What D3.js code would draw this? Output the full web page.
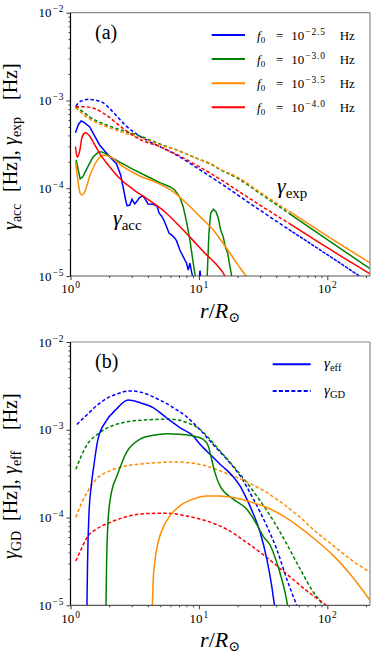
<!DOCTYPE html>
<html>
<head>
<meta charset="utf-8">
<script src="https://cdnjs.cloudflare.com/ajax/libs/d3/7.8.5/d3.min.js"></script>
<style>
  body { margin: 0; background: #fff; }
  svg { display: block; }
  text { font-family: "Liberation Serif", "DejaVu Serif", serif; fill: #000; }
</style>
</head>
<body>
<div id="chart"></div>
<script>
// ---- axes / labels ----
const xDomain = [1, 215];
const yDomain = [1e-5, 1e-2];
const xMajor = [1, 10, 100];
const xMajorExp = ["0", "1", "2"];
const yMajor = [1e-2, 1e-3, 1e-4, 1e-5];
const yMajorExp = ["\u22122", "\u22123", "\u22124", "\u22125"];
const f0Exp = ["\u22122.5", "\u22123.0", "\u22123.5", "\u22124.0"];
const seriesColors = ["#0000ff", "#008000", "#ff8c00", "#ff0000"];
const expSolidFrom = 55; // gamma_exp dashes close up at large r

// ---- panel (a): gamma_exp  [r/Rsun, Hz] ----
const expBlue = [[1.1,8.6e-4],[1.2,9.8e-4],[1.4,1.03e-3],[1.6,1.0e-3],[1.736,9.7e-4],[2.017,8.1e-4],[2.343,6.4e-4],[2.72,5.1e-4],[3.26,4.15e-4],[3.9,3.55e-4],[4.96,2.98e-4],[6.69,2.39e-4],[10,1.65e-4],[15,1.12e-4],[20,8.4e-5],[30,5.6e-5],[50,3.4e-5],[100,1.75e-5],[215,8.3e-6]];
const expGreen = [[1.094,8.5e-4],[1.249,7.45e-4],[1.407,6.5e-4],[1.9,5.26e-4],[2.564,4.53e-4],[3.46,3.94e-4],[4.96,3.19e-4],[6.69,2.73e-4],[10,2.14e-4],[12,1.92e-4],[15,1.6e-4],[20,1.3e-4],[30,8.7e-5],[50,5.2e-5],[100,2.6e-5],[215,1.21e-5]];
const expOrange = [[1.094,8.3e-4],[1.249,7.0e-4],[1.407,6.15e-4],[1.9,5.03e-4],[2.564,4.3e-4],[3.46,3.8e-4],[4.96,3.12e-4],[6.69,2.73e-4],[10,2.14e-4],[12,1.95e-4],[15,1.62e-4],[20,1.34e-4],[30,9.0e-5],[50,5.5e-5],[100,2.85e-5],[215,1.41e-5]];
const expRed = [[1.094,8.5e-4],[1.249,8.5e-4],[1.54,8.1e-4],[1.9,6.8e-4],[2.564,4.8e-4],[3.46,3.6e-4],[4.96,2.98e-4],[6.69,2.43e-4],[10,1.76e-4],[15,1.24e-4],[20,9.4e-5],[30,6.4e-5],[50,4.0e-5],[100,2.1e-5],[215,1.06e-5]];

// ---- panel (a): gamma_acc ----
const accBlue = [[1.094,4.3e-4],[1.15,5.3e-4],[1.211,5.84e-4],[1.249,5.74e-4],[1.407,5.03e-4],[1.685,3.11e-4],[2.017,2.29e-4],[2.274,1.92e-4],[2.458,1.42e-4],[2.564,1.04e-4],[2.69,7.35e-5],[2.755,6.34e-5],[2.89,6.4e-5],[3.01,7.48e-5],[3.162,6.62e-5],[3.3,7.16e-5],[3.459,7.88e-5],[3.67,8.16e-5],[3.83,7.48e-5],[4.018,6.62e-5],[4.397,6.55e-5],[4.72,6.28e-5],[4.9,5.19e-5],[5.11,4.84e-5],[5.33,4.35e-5],[5.59,3.66e-5],[5.86,3.07e-5],[6.11,2.94e-5],[6.41,2.76e-5],[6.69,2.53e-5],[7.11,1.98e-5],[7.54,1.66e-5],[8.01,1.4e-5],[8.25,1.17e-5],[8.51,1.4e-5],[8.76,1.12e-5],[9.03,9.3e-6],[10.0,9e-6],[10.2,1.15e-5],[10.4,9e-6]];
const accGreen = [[1.107,2.1e-4],[1.148,1.62e-4],[1.19,1.28e-4],[1.249,1.36e-4],[1.366,1.76e-4],[1.495,2.25e-4],[1.635,2.56e-4],[1.736,2.61e-4],[1.899,2.45e-4],[2.142,2.19e-4],[2.564,1.89e-4],[3.07,1.64e-4],[3.9,1.38e-4],[4.96,1.16e-4],[5.93,1.04e-4],[6.49,9.55e-5],[7.11,7.88e-5],[7.54,6.17e-5],[8.01,4.17e-5],[8.51,2.58e-5],[9.03,1.4e-5],[9.48,9e-6],[11.14,9e-6],[11.6,1.0e-5],[11.97,3.07e-5],[12.34,5.19e-5],[12.94,5.75e-5],[13.58,5.4e-5],[14.16,4.55e-5],[14.77,3.35e-5],[15.49,2.76e-5],[16.06,2.16e-5],[16.75,1.82e-5],[17.47,1.28e-5],[18.2,9e-6]];
const accOrange = [[1.094,2.01e-4],[1.141,1.24e-4],[1.19,8.75e-5],[1.233,8.38e-5],[1.31,9.55e-5],[1.407,1.36e-4],[1.54,1.84e-4],[1.685,2.25e-4],[1.81,2.37e-4],[2.017,2.29e-4],[2.564,1.76e-4],[3.459,1.38e-4],[4.67,1.16e-4],[6.3,9.14e-5],[8.01,6.74e-5],[10.2,4.75e-5],[12.94,3.35e-5],[16.45,2.07e-5],[19.7,1.4e-5],[23.3,1.0e-5],[24.5,9e-6]];
const accRed = [[1.094,2.98e-4],[1.127,2.25e-4],[1.176,2.61e-4],[1.233,3.87e-4],[1.31,4.3e-4],[1.39,4.05e-4],[1.495,3.4e-4],[1.685,2.5e-4],[2.017,1.76e-4],[2.41,1.3e-4],[3.07,9.73e-5],[4.14,7.23e-5],[5.59,5.19e-5],[7.11,3.66e-5],[9.03,2.53e-5],[11.48,1.74e-5],[13.75,1.34e-5],[15.96,1.0e-5],[16.5,9e-6]];

// ---- panel (b): gamma_GD ----
const gdBlue = [[1.12,1.15e-3],[1.33,1.46e-3],[1.59,1.87e-3],[1.9,2.26e-3],[2.27,2.54e-3],[2.89,2.77e-3],[3.46,2.7e-3],[4.14,2.47e-3],[4.96,2.18e-3],[6.3,1.79e-3],[8.0,1.41e-3],[10.2,1.0e-3],[12.9,6.8e-4],[16.5,4.6e-4],[20.9,3.0e-4],[26.6,1.62e-4],[33.8,8.0e-5],[40.4,4.35e-5],[48.4,1.98e-5],[57.9,1.0e-5],[62,8e-6]];
const gdGreen = [[1.1,3.55e-4],[1.326,6.53e-4],[1.685,9.27e-4],[2.142,1.12e-3],[2.72,1.23e-3],[3.67,1.29e-3],[5.93,1.32e-3],[8.01,1.21e-3],[10.2,1.01e-3],[12.19,7.78e-4],[14.6,5.74e-4],[18.5,3.87e-4],[23.6,2.5e-4],[30.0,1.55e-4],[38.1,9.14e-5],[48.4,4.97e-5],[61.5,2.58e-5],[78.2,1.4e-5],[92.5,1e-5],[100,8e-6]];
const gdOrange = [[1.1,1e-4],[1.211,1.42e-4],[1.342,1.92e-4],[1.586,2.73e-4],[2.017,3.4e-4],[2.72,3.87e-4],[4.14,4.15e-4],[6.69,4.3e-4],[9.03,4.15e-4],[11.48,3.87e-4],[14.6,3.4e-4],[18.5,2.98e-4],[25.0,2.45e-4],[33.8,1.92e-4],[45.6,1.42e-4],[61.5,1e-4],[83.0,6.74e-5],[112,4.75e-5],[151,3.35e-5],[217,2.36e-5]];
const gdRed = [[1.1,3.2e-5],[1.211,4.35e-5],[1.342,5.9e-5],[1.586,7.35e-5],[2.017,8.75e-5],[2.72,1.02e-4],[3.9,1.11e-4],[5.59,1.12e-4],[8.01,1.04e-4],[11.48,9.14e-5],[16.45,7.35e-5],[23.6,5.19e-5],[33.8,3.5e-5],[48.4,2.26e-5],[69.4,1.46e-5],[98.2,1e-5],[112,8.6e-6]];

// ---- panel (b): gamma_eff ----
const effBlue = [[1.342,9e-6],[1.358,3.07e-5],[1.39,1.04e-4],[1.45,2.29e-4],[1.513,3.71e-4],[1.635,7.78e-4],[1.899,1.26e-3],[2.274,1.71e-3],[2.805,2.18e-3],[3.459,2.04e-3],[4.397,1.79e-3],[5.59,1.37e-3],[7.11,1.06e-3],[9.03,8.49e-4],[10.2,6.83e-4],[11.48,5.74e-4],[12.94,4.82e-4],[14.6,4.05e-4],[16.45,3.48e-4],[18.5,2.92e-4],[20.9,2.29e-4],[23.6,1.62e-4],[26.6,1.09e-4],[30.0,6.74e-5],[33.8,3.35e-5],[36.9,1.66e-5],[38.8,1.0e-5],[40,8e-6]];
const effGreen = [[1.888,9e-6],[1.911,3.07e-5],[1.958,8.75e-5],[2.04,1.62e-4],[2.142,2.29e-4],[2.274,2.85e-4],[2.72,5.49e-4],[3.459,7.78e-4],[4.397,8.64e-4],[5.59,9.03e-4],[7.11,8.88e-4],[9.03,8.49e-4],[10.8,7.78e-4],[11.83,6.53e-4],[12.56,4.61e-4],[13.33,3.25e-4],[14.6,2.29e-4],[18.5,1.62e-4],[23.6,1.24e-4],[28.2,8.38e-5],[31.8,6.07e-5],[35.9,4.83e-5],[40.4,3.07e-5],[44.2,1.98e-5],[46.9,1.4e-5],[49.0,1e-5],[50,8e-6]];
const effOrange = [[4.33,9e-6],[4.397,1.82e-5],[4.53,3.07e-5],[4.81,5.19e-5],[5.26,7.67e-5],[5.93,1.04e-4],[7.11,1.36e-4],[9.03,1.62e-4],[11.48,1.76e-4],[14.6,1.76e-4],[18.5,1.69e-4],[25.0,1.51e-4],[33.8,1.3e-4],[45.6,1.04e-4],[61.5,7.67e-5],[83.0,5.4e-5],[112,3.66e-5],[151,2.26e-5],[217,1.12e-5]];

const W = 381, H = 661;
const svg = d3.select("#chart").append("svg").attr("width", W).attr("height", H);
svg.append("rect").attr("width", W).attr("height", H).attr("fill", "#fff");

const x = d3.scaleLog().domain(xDomain).range([70.5, 370]);

function minorTicks(lo, hi) {
  const out = [];
  for (let e = Math.floor(Math.log10(lo)); e <= Math.ceil(Math.log10(hi)); e++)
    for (let k = 2; k <= 9; k++) {
      const v = k * Math.pow(10, e);
      if (v > lo && v < hi) out.push(v);
    }
  return out;
}

function supText(sel, exps, supSize) {
  sel.each(function (d, i) {
    const t = d3.select(this).text(null);
    t.append("tspan").text("10");
    t.append("tspan").attr("dx", 1).attr("dy", -5)
      .style("font-size", supSize + "px").style("letter-spacing", "1px")
      .text(exps[i]);
  });
}

function drawPanel(p) {
  const y = d3.scaleLog().domain(yDomain).range([p.bottom, p.top]);
  const g = svg.append("g");
  const clipId = "clip-" + p.name;
  svg.append("clipPath").attr("id", clipId).append("rect")
    .attr("x", x.range()[0]).attr("y", p.top)
    .attr("width", x.range()[1] - x.range()[0]).attr("height", p.bottom - p.top);

  const line = d3.line().x(d => x(d[0])).y(d => y(d[1]));
  const plot = g.append("g").attr("clip-path", `url(#${clipId})`);
  p.series.forEach(s => {
    plot.append("path").datum(s.data)
      .attr("fill", "none").attr("stroke", s.color).attr("stroke-width", 1.5)
      .attr("stroke-dasharray", s.dash || null)
      .attr("d", line.curve(s.smooth ? d3.curveMonotoneX : d3.curveLinear));
  });

  // axes
  const yMin = g.append("g").attr("transform", `translate(${x.range()[0]},0)`)
    .call(d3.axisLeft(y).tickValues(minorTicks(1e-5, 1e-2)).tickSize(2).tickFormat(""));
  const yMaj = g.append("g").attr("transform", `translate(${x.range()[0]},0)`)
    .call(d3.axisLeft(y).tickValues(yMajor).tickSize(4).tickPadding(2));
  const xMin = g.append("g").attr("transform", `translate(0,${p.bottom})`)
    .call(d3.axisBottom(x).tickValues(minorTicks(1, 215)).tickSize(2).tickFormat(""));
  const xMaj = g.append("g").attr("transform", `translate(0,${p.bottom})`)
    .call(d3.axisBottom(x).tickValues(xMajor).tickSize(4).tickPadding(4));
  [yMin, yMaj, xMin, xMaj].forEach(a => a.select(".domain").remove());
  g.selectAll(".tick line").attr("stroke", "#000").attr("stroke-width", 0.8);
  yMaj.selectAll(".tick text").style("font-size", "13px").call(supText, yMajorExp, 9.5);
  xMaj.selectAll(".tick text").style("font-size", "13px").call(supText, xMajorExp, 9.5);

  // spines
  const [x0, x1] = x.range();
  g.append("line").attr("x1", x0).attr("x2", x1).attr("y1", p.top).attr("y2", p.top).attr("stroke", "#888").attr("stroke-width", 1.2);
  g.append("line").attr("x1", x1).attr("x2", x1).attr("y1", p.top).attr("y2", p.bottom).attr("stroke", "#888").attr("stroke-width", 1.2);
  g.append("line").attr("x1", x0).attr("x2", x1).attr("y1", p.bottom).attr("y2", p.bottom).attr("stroke", "#555").attr("stroke-width", 1.2);
  g.append("line").attr("x1", x0).attr("x2", x0).attr("y1", p.top).attr("y2", p.bottom).attr("stroke", "#000").attr("stroke-width", 1.2);

  // x label r/R_sun
  const xl = g.append("text").attr("x", 220).attr("y", p.bottom + 42).attr("text-anchor", "middle").style("font-size", "22px");
  xl.append("tspan").style("font-style", "italic").text("r");
  xl.append("tspan").text("/");
  xl.append("tspan").style("font-style", "italic").text("R");
  xl.append("tspan").attr("dy", 4).style("font-size", "14px").text("\u2299");

  // y label pieces (rotated)
  p.ylabel.forEach(piece => {
    const t = g.append("text").attr("transform", `translate(17,${piece.at}) rotate(-90)`).style("font-size", "20px");
    if (piece.sub) {
      t.append("tspan").style("font-style", "italic").text("\u03b3");
      t.append("tspan").attr("dy", 4).style("font-size", "14px").text(piece.sub);
    } else {
      t.text(piece.text);
    }
  });

  // panel tag
  g.append("text").attr("x", 95).attr("y", p.top + 26).style("font-size", "20px").text(p.tag);
  return { g, y };
}

function gammaText(g, xPos, yPos, sub, size, subSize, drop) {
  const t = g.append("text").attr("x", xPos).attr("y", yPos).style("font-size", size + "px");
  t.append("tspan").style("font-style", "italic").text("\u03b3");
  t.append("tspan").attr("dy", drop).style("font-size", subSize + "px").text(sub);
  return t;
}

// ---------- panel (a) ----------
const expSets = [expBlue, expGreen, expOrange, expRed];
const accSets = [accBlue, accGreen, accOrange, accRed];
const seriesA = [];
expSets.forEach((d, i) => {
  const head = d.filter(v => v[0] <= expSolidFrom);
  const tail = d.filter(v => v[0] >= 50);
  seriesA.push({ data: head, color: seriesColors[i], dash: "3.5,2.2", smooth: true });
  seriesA.push({ data: tail, color: seriesColors[i], dash: i === 0 ? "3.5,1" : null, smooth: true });
});
accSets.forEach((d, i) => seriesA.push({ data: d, color: seriesColors[i], smooth: i !== 0 && i !== 1 }));

const pa = drawPanel({
  name: "a", top: 12.7, bottom: 276, tag: "(a)", series: seriesA,
  ylabel: [
    { at: 230, sub: "acc" }, { at: 192, text: "[Hz]," },
    { at: 145, sub: "exp" }, { at: 100, text: "[Hz]" }
  ]
});

// legend (a)
const legA = pa.g.append("g");
f0Exp.forEach((e, i) => {
  const ly = 35 + i * 24.1;
  legA.append("line").attr("x1", 211.7).attr("x2", 245).attr("y1", ly).attr("y2", ly)
    .attr("stroke", seriesColors[i]).attr("stroke-width", 2);
  const t = legA.append("text").attr("y", ly + 4.5).style("font-size", "13px");
  t.append("tspan").attr("x", 257).style("font-style", "italic").text("f");
  t.append("tspan").attr("dy", 3).style("font-size", "9px").text("0");
  t.append("tspan").attr("x", 276).attr("dy", -3).text("=");
  t.append("tspan").attr("x", 291.3).text("10");
  t.append("tspan").attr("dx", 1).attr("dy", -5).style("font-size", "9.5px").style("letter-spacing", "0.8px").text(e);
  t.append("tspan").attr("x", 339.7).attr("dy", 5).text("Hz");
});

gammaText(pa.g, 277, 193, "exp", 22, 15, 5);
gammaText(pa.g, 113, 225, "acc", 22, 15, 5);

// ---------- panel (b) ----------
const gdSets = [gdBlue, gdGreen, gdOrange, gdRed];
const effSets = [effBlue, effGreen, effOrange];
const seriesB = [];
gdSets.forEach((d, i) => seriesB.push({ data: d, color: seriesColors[i], dash: "3.5,2.2", smooth: true }));
effSets.forEach((d, i) => seriesB.push({ data: d, color: seriesColors[i], smooth: true }));

const pb = drawPanel({
  name: "b", top: 342, bottom: 605.3, tag: "(b)", series: seriesB,
  ylabel: [
    { at: 559, sub: "GD" }, { at: 521, text: "[Hz]," },
    { at: 474, sub: "eff" }, { at: 430, text: "[Hz]" }
  ]
});

// legend (b)
const legB = pb.g.append("g");
[{ sub: "eff", dash: null, ly: 364.3 }, { sub: "GD", dash: "4,2.2", ly: 391 }].forEach(it => {
  legB.append("line").attr("x1", 272.7).attr("x2", 310.7).attr("y1", it.ly).attr("y2", it.ly)
    .attr("stroke", seriesColors[0]).attr("stroke-width", 2).attr("stroke-dasharray", it.dash);
  gammaText(legB, 324, it.ly + 3.5, it.sub, 15, 10.5, 3);
});
</script>
</body>
</html>
